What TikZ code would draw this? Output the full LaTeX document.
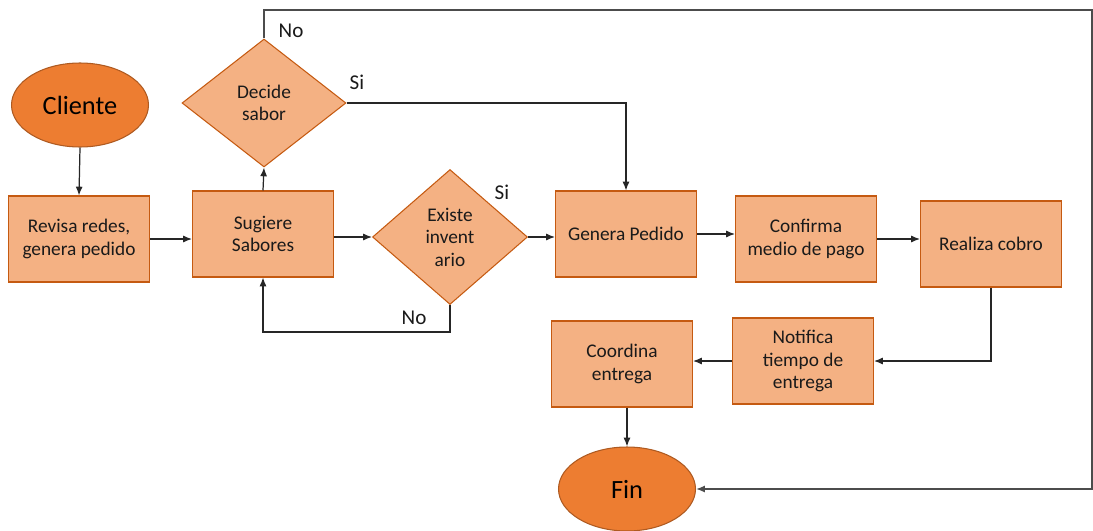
\documentclass[tikz,border=0pt]{standalone}
\usepackage{fontspec}
\setmainfont{Carlito}
\usetikzlibrary{shapes.geometric,arrows.meta}
\definecolor{boxfill}{HTML}{F4B183}
\definecolor{boxline}{HTML}{C55A11}
\definecolor{ovalfill}{HTML}{ED7D31}
\definecolor{ovalline}{HTML}{AE5A21}
\definecolor{txt}{HTML}{1A1A1A}
\begin{document}
\begin{tikzpicture}[x=0.02cm,y=-0.02cm,
 proc/.style={rectangle,draw=boxline,fill=boxfill,line width=0.6pt,minimum width=2.82cm,minimum height=1.72cm,align=center,font=\fontsize{11}{12.8}\selectfont,text=txt,inner sep=0pt},
 dec/.style={diamond,draw=boxline,fill=boxfill,line width=0.6pt,align=center,font=\fontsize{11}{12.8}\selectfont,text=txt,inner sep=0pt},
 term/.style={ellipse,draw=ovalline,fill=ovalfill,line width=0.6pt,minimum width=2.74cm,minimum height=1.68cm,font=\fontsize{15}{17}\selectfont,text=black},
 arr/.style={-{Latex[length=5pt,width=4pt]},line width=0.7pt,draw=black!85},
 loop/.style={arr,line width=0.9pt,draw=black!70},
 lbl/.style={font=\fontsize{12}{14}\selectfont,text=txt,inner sep=0pt}]
\useasboundingbox (0,0) rectangle (1093,531);
\node[term] (cli) at (80,105) {Cliente};
\node[proc] (rev) at (79,239) {Revisa redes,\\genera pedido};
\node[proc] (sug) at (263,234) {Sugiere\\Sabores};
\node[dec,minimum width=3.28cm,minimum height=2.56cm] (dec) at (264,103) {Decide\\sabor};
\node[dec,minimum width=3.1cm,minimum height=2.7cm] (inv) at (450,237) {Existe\\invent\\ario};
\node[proc] (gen) at (626,234) {Genera Pedido};
\node[proc] (con) at (806,239) {Confirma\\medio de pago};
\node[proc] (cob) at (991,244) {Realiza cobro};
\node[proc] (not) at (803,361) {Notifica\\tiempo de\\entrega};
\node[proc] (coo) at (622,364) {Coordina\\entrega};
\node[term] (fin) at (627,489) {Fin};
\coordinate (tr) at (1092,10);
\coordinate (br) at (1092,489);
\coordinate (nob) at (449,332);
\node[lbl] (lno1) at (291,31) {No};
\node[lbl] (lsi1) at (357,82) {Si};
\node[lbl] (lsi2) at (502,192) {Si};
\node[lbl] (lno2) at (414,318) {No};
\draw[arr] (cli.south) -- (rev.north);
\draw[arr] (rev.east) -- (rev.east -| sug.west);
\draw[arr] (sug.east |- inv) -- (inv.west);
\draw[arr] (inv.east) -- (inv.east -| gen.west);
\draw[arr] (gen.east) -- (gen.east -| con.west);
\draw[arr] (con.east) -- (con.east -| cob.west);
\draw[arr] (sug.north) -- (dec.south);
\draw[arr] (dec.east) -| (gen.north);
\draw[loop] (dec.north) |- (tr) -- (br) -- (fin.east);
\draw[arr] (cob.south) |- (not.east);
\draw[arr] (not.west) -- (not.west -| coo.east);
\draw[arr] (fin.north |- coo.south) -- (fin.north);
\draw[arr] (inv.south) -- (inv.south |- nob) -| (sug.south);
\end{tikzpicture}
\end{document}
